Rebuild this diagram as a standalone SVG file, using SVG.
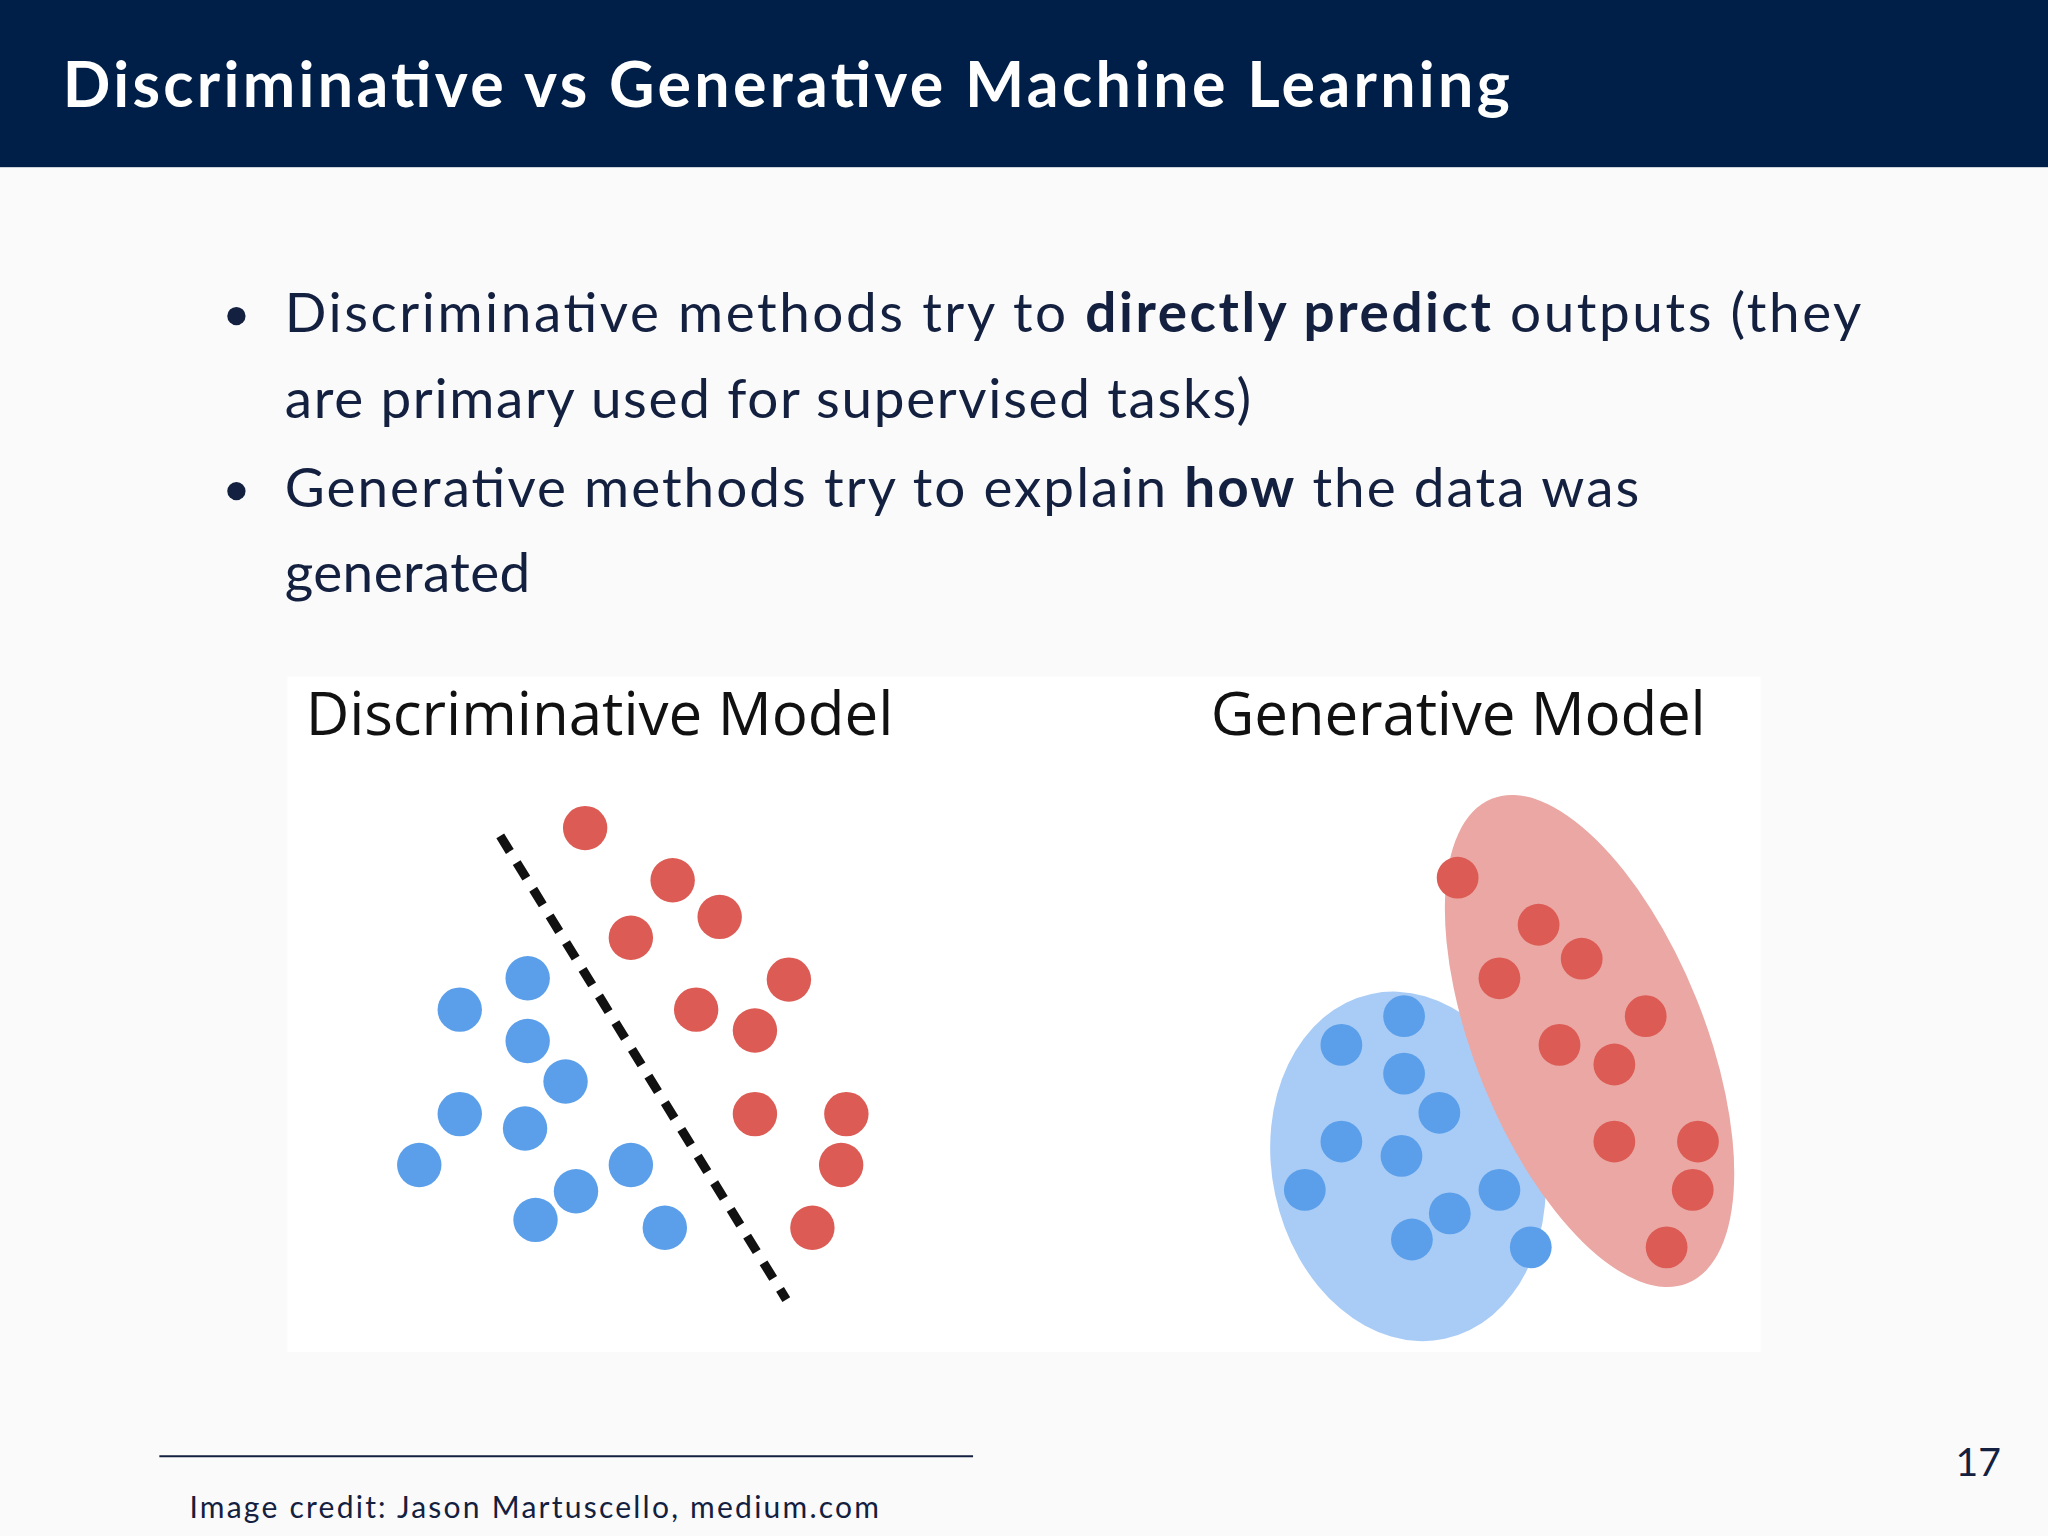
<svg xmlns="http://www.w3.org/2000/svg" width="2048" height="1536" viewBox="0 0 2048 1536">
<style>
.t{font-family:"Lato","Open Sans",sans-serif;fill:#14203f}
.r{fill:#dc5b54}.b{fill:#5b9fea}
.lab{font-family:"Open Sans","Noto Sans",sans-serif;fill:#111;font-size:46px}
</style>
<rect width="2048" height="1536" fill="#fafafa"/>
<g transform="scale(1.30612)">
<g id="header"><rect x="0" y="0" width="1568" height="128" fill="#001f48"/>
<text x="48" y="82" font-family="Lato,sans-serif" font-weight="bold" font-size="48" fill="#fff" textLength="1108">Discriminative vs Generative Machine Learning</text></g>
<g id="bullets" class="t" font-size="42">
<circle cx="181" cy="242" r="7" fill="#14203f"/>
<text x="218" y="254" textLength="1207">Discriminative methods try to <tspan font-weight="bold">directly predict</tspan> outputs (they</text>
<text x="218" y="320" textLength="740">are primary used for supervised tasks)</text>
<circle cx="181" cy="376" r="7" fill="#14203f"/>
<text x="218" y="388" textLength="1037">Generative methods try to explain <tspan font-weight="bold">how</tspan> the data was</text>
<text x="218" y="453" textLength="188">generated</text>
</g>
<rect x="220" y="518" width="1128" height="517" fill="#fff"/>
<g id="disc">
<text class="lab" x="234" y="563" textLength="450">Discriminative Model</text>
<line x1="383" y1="640" x2="602" y2="995" stroke="#111" stroke-width="7" stroke-dasharray="14,10"/>
<g class="r"><circle cx="448" cy="634" r="17"/><circle cx="515" cy="674" r="17"/><circle cx="551" cy="702" r="17"/><circle cx="483" cy="718" r="17"/><circle cx="604" cy="750" r="17"/><circle cx="533" cy="773" r="17"/><circle cx="578" cy="789" r="17"/><circle cx="578" cy="853" r="17"/><circle cx="648" cy="853" r="17"/><circle cx="644" cy="892" r="17"/><circle cx="622" cy="940" r="17"/></g>
<g class="b"><circle cx="404" cy="749" r="17"/><circle cx="352" cy="773" r="17"/><circle cx="404" cy="797" r="17"/><circle cx="433" cy="828" r="17"/><circle cx="352" cy="853" r="17"/><circle cx="402" cy="864" r="17"/><circle cx="321" cy="892" r="17"/><circle cx="483" cy="892" r="17"/><circle cx="441" cy="912" r="17"/><circle cx="410" cy="934" r="17"/><circle cx="509" cy="940" r="17"/></g>
</g>
<g id="gen">
<text class="lab" x="927" y="563" textLength="379">Generative Model</text>
<ellipse cx="1078" cy="893" rx="104" ry="135" transform="rotate(-12 1078 893)" fill="#a9ccf6"/>
<ellipse cx="1217" cy="797" rx="88" ry="200" transform="rotate(-22 1217 797)" fill="#eaa7a3"/>
<g class="r"><circle cx="1116" cy="672" r="16"/><circle cx="1178" cy="708" r="16"/><circle cx="1211" cy="734" r="16"/><circle cx="1148" cy="749" r="16"/><circle cx="1260" cy="778" r="16"/><circle cx="1194" cy="800" r="16"/><circle cx="1236" cy="815" r="16"/><circle cx="1236" cy="874" r="16"/><circle cx="1300" cy="874" r="16"/><circle cx="1296" cy="911" r="16"/><circle cx="1276" cy="955" r="16"/></g>
<g class="b"><circle cx="1075" cy="778" r="16"/><circle cx="1027" cy="800" r="16"/><circle cx="1075" cy="822" r="16"/><circle cx="1102" cy="852" r="16"/><circle cx="1027" cy="874" r="16"/><circle cx="1073" cy="885" r="16"/><circle cx="999" cy="911" r="16"/><circle cx="1148" cy="911" r="16"/><circle cx="1110" cy="929" r="16"/><circle cx="1081" cy="949" r="16"/><circle cx="1172" cy="955" r="16"/></g>
</g>
<g id="footer">
<line x1="122" y1="1115" x2="745" y2="1115" stroke="#14203f" stroke-width="1.5"/>
<text class="t" x="145" y="1162" font-size="23" textLength="528">Image credit:  Jason Martuscello, medium.com</text>
<text class="t" x="1532" y="1130" font-size="30" text-anchor="end">17</text>
</g>
</g>
</svg>
